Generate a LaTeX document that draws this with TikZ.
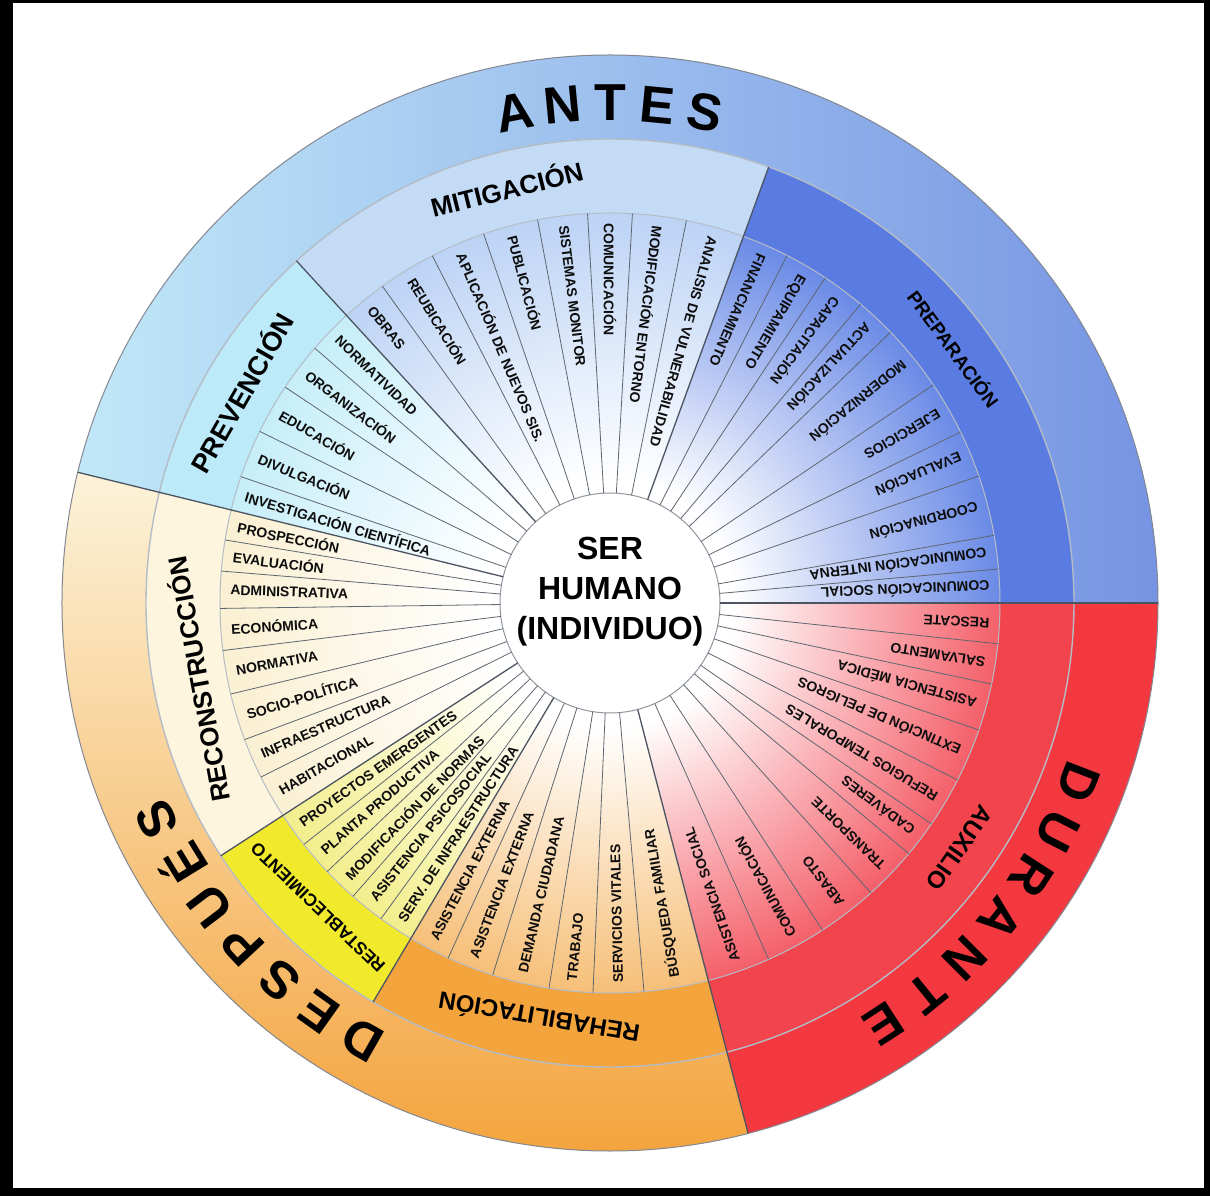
\documentclass[tikz,border=0pt]{standalone}
\usepackage{fontspec}
\setmainfont{Liberation Sans}
\usepackage{tikz}
\usetikzlibrary{calc}

\definecolor{antesL}{HTML}{C2E9F8}
\definecolor{antesR}{HTML}{7694E3}
\definecolor{durante}{HTML}{F43840}
\definecolor{despuesT}{HTML}{FCF3DA}
\definecolor{despuesB}{HTML}{F4A43E}
\definecolor{prevband}{HTML}{BDEAF8}
\definecolor{mitiband}{HTML}{C4DBF6}
\definecolor{prepband}{HTML}{5A7CE2}
\definecolor{auxband}{HTML}{F2444C}
\definecolor{rehaband}{HTML}{F4A43C}
\definecolor{restband}{HTML}{F1E92C}
\definecolor{recoband}{HTML}{FDF5DD}
\definecolor{divline}{HTML}{5E6670}
\definecolor{arcline}{HTML}{B4BCC6}
\definecolor{bordline}{HTML}{4C5462}
\definecolor{tint}{HTML}{FFFFFF}

\newcommand{\Rout}{548}
\newcommand{\Rone}{464}
\newcommand{\Rtwo}{390}
\newcommand{\Rtxt}{381}
\newcommand{\rin}{110}
% ring sector: start angle, end angle, outer radius, inner radius
\newcommand{\ringpart}[4]{(#1:#3) arc[start angle=#1, end angle=#2, radius=#3] -- (#2:#4) arc[start angle=#2, end angle=#1, radius=#4] -- cycle}

\pgfdeclareradialshading[tint]{itemshade}{\pgfpoint{0bp}{0bp}}{color(0bp)=(white); color(8bp)=(white); color(25bp)=(tint); color(50bp)=(tint)}

\tikzset{
	itemtext/.style={font=\fontsize{14}{14}\selectfont\bfseries, text=black!95, inner sep=1pt, anchor=west},
	phaseletter/.style={font=\fontsize{52}{52}\selectfont\bfseries, text=black, inner sep=0pt},
	divider/.style={draw=divline, line width=0.8pt},
	border/.style={draw=bordline, line width=1.3pt},
	guide/.style={draw=arcline, line width=1.4pt},
}

\begin{document}
\begin{tikzpicture}[x=1pt,y=1pt]
	\fill[black] (-610,-593) rectangle (600,603);
	\fill[white] (-597,-585) rectangle (594,600);
	\useasboundingbox (-610,-593) rectangle (600,603);

	% outer ring
	\begin{scope}
		\clip \ringpart{0}{166.2}{\Rout}{\Rone};
		\shade[left color=antesL, right color=antesR] (-\Rout,-\Rout) rectangle (\Rout,\Rout);
	\end{scope}
	\fill[durante] \ringpart{-75.4}{0}{\Rout}{\Rone};
	\begin{scope}
		\clip \ringpart{166.2}{284.6}{\Rout}{\Rone};
		\shade[top color=despuesT, bottom color=despuesB] (-\Rout,-\Rout) rectangle (\Rout,131);
	\end{scope}

	% sub-phase bands
	\fill[prevband] \ringpart{132.5}{166.2}{\Rone}{\Rtwo};
	\fill[mitiband] \ringpart{70}{132.5}{\Rone}{\Rtwo};
	\fill[prepband] \ringpart{0}{70}{\Rone}{\Rtwo};
	\fill[auxband] \ringpart{-75.4}{0}{\Rone}{\Rtwo};
	\fill[rehaband] \ringpart{239.3}{284.6}{\Rone}{\Rtwo};
	\fill[restband] \ringpart{213}{239.3}{\Rone}{\Rtwo};
	\fill[recoband] \ringpart{166.2}{213}{\Rone}{\Rtwo};

	% item sectors
	\foreach \a/\b/\c in {132.5/166.2/C6EEF9, 70/132.5/BCD3F5, 0/70/6A8AE6, -75.4/0/F4606A,
		239.3/284.6/F6BF78, 213/239.3/F3EE8C, 166.2/213/FAF0D2}{
		\begin{scope}
			\clip \ringpart{\a}{\b}{\Rtwo}{\rin};
			\definecolor{tint}{HTML}{\c}
			\shade[shading=itemshade] (0,0) circle (\Rtwo);
		\end{scope}
	}

	\draw[guide] (0,0) circle (\Rone);
	\draw[guide, line width=1pt] (0,0) circle (\Rtwo);
	\draw[draw=bordline!70, line width=1pt] (0,0) circle (\Rout);
	\fill[white] (0,0) circle (\rin);
	\draw[draw=arcline!80!black, line width=1pt] (0,0) circle (\rin);

	% item dividers
	\foreach \a in {139.2,146.4,153.9,161.1,
		125.7,117.1,108.9,100.7,93.3,86.7,78.7,
		63,56.5,50,44,34,26,19,10,5,
		-6,-12,-19,-27,-34.5,-40,-48,-57,-66,
		245.5,252.5,261,267.5,275,
		218.26,223.52,228.78,234.04,
		170.7,175.3,180.8,187,193.5,200.5,206.5}
		\draw[divider] (\a:\rin) -- (\a:\Rtwo);
	\foreach \a in {132.5,70,213,239.3}
		\draw[border] (\a:\rin) -- (\a:\Rone);
	\foreach \a in {0,166.2,-75.4}
		\draw[border] (\a:\rin) -- (\a:\Rout);

	% items
	\foreach \a/\t [count=\i] in {135.85/NORMATIVIDAD, 142.8/ORGANIZACIÓN, 150.15/EDUCACIÓN,
		157.5/DIVULGACIÓN, 163.65/INVESTIGACIÓN CIENTÍFICA}
		\node[itemtext, rotate=\a+180] (prev\i) at (\a:\Rtxt) {\t};
	\foreach \a/\t [count=\i] in {129.1/OBRAS, 121.4/REUBICACIÓN, 113/APLICACIÓN DE NUEVOS SIS.,
		104.8/PUBLICACIÓN, 97/SISTEMAS MONITOR, 90/COMUNICACIÓN, 82.7/MODIFICACIÓN ENTORNO,
		74.35/ANALISIS DE VULNERABILIDAD}
		\node[itemtext, rotate=\a+180] (miti\i) at (\a:\Rtxt) {\t};
	\foreach \a/\t [count=\i] in {66.5/FINANCIAMIENTO, 59.75/EQUIPAMIENTO, 53.25/CAPACITACIÓN,
		47/ACTUALIZACIÓN, 39/MODERNIZACIÓN, 30/EJERCICIOS, 22.5/EVALUACIÓN, 14.5/COORDINACIÓN,
		7.5/COMUNICACIÓN INTERNA, 2.5/COMUNICACIÓN SOCIAL}
		\node[itemtext, rotate=\a+180] (prep\i) at (\a:\Rtxt) {\t};
	\foreach \a/\t [count=\i] in {-3/RESCATE, -9/SALVAMENTO, -15.5/ASISTENCIA MÉDICA,
		-23/EXTINCIÓN DE PELIGROS, -30.75/REFUGIOS TEMPORALES, -37.25/CADÁVERES, -44/TRANSPORTE,
		-52.5/ABASTO, -61.5/COMUNICACIÓN, -70.7/ASISTENCIA SOCIAL}
		\node[itemtext, rotate=\a+180] (aux\i) at (\a:\Rtxt) {\t};
	\foreach \a/\t [count=\i] in {242.4/ASISTENCIA EXTERNA, 249/ASISTENCIA EXTERNA,
		256.75/DEMANDA CIUDADANA, 264.25/TRABAJO, 271.25/SERVICIOS VITALES, 279.8/BÚSQUEDA FAMILIAR}
		\node[itemtext, rotate=\a+180] (reha\i) at (\a:\Rtxt) {\t};
	\foreach \a/\t [count=\i] in {215.6/PROYECTOS EMERGENTES, 220.9/PLANTA PRODUCTIVA,
		226.2/MODIFICACIÓN DE NORMAS, 231.4/ASISTENCIA PSICOSOCIAL, 236.7/SERV. DE INFRAESTRUCTURA}
		\node[itemtext, rotate=\a+180] (rest\i) at (\a:\Rtxt) {\t};
	\foreach \a/\t [count=\i] in {168.45/PROSPECCIÓN, 173/EVALUACIÓN, 178.05/ADMINISTRATIVA,
		183.9/ECONÓMICA, 190.25/NORMATIVA, 197/SOCIO-POLÍTICA, 203.5/INFRAESTRUCTURA,
		209.75/HABITACIONAL}
		\node[itemtext, rotate=\a+180] (reco\i) at (\a:\Rtxt) {\t};

	% sub-phase labels
	\node[font=\fontsize{26}{26}\selectfont\bfseries, rotate=14] (mitigacion) at (104:428) {MITIGACIÓN};
	\node[font=\fontsize{27}{27}\selectfont\bfseries, rotate=60.3] (prevencion) at (150.3:425) {PREVENCIÓN};
	\node[font=\fontsize{19}{19}\selectfont\bfseries, rotate=-53.5] (preparacion) at (36.5:428) {PREPARACIÓN};
	\node[font=\fontsize{24}{24}\selectfont\bfseries, rotate=-125] (auxilio) at (-35:427) {AUXILIO};
	\node[font=\fontsize{24}{24}\selectfont\bfseries, rotate=170.3] (rehabilitacion) at (260.3:422) {REHABILITACIÓN};
	\node[font=\fontsize{17.5}{17.5}\selectfont\bfseries, rotate=136.2] (restablecimiento) at (226.2:422) {RESTABLECIMIENTO};
	\node[font=\fontsize{26}{26}\selectfont\bfseries, rotate=100.5] (reconstruccion) at (190.5:420) {RECONSTRUCCIÓN};

	% phases
	\foreach \a/\l [count=\i] in {101/A, 95.5/N, 90/T, 84.5/E, 79/S}
		\node[phaseletter, rotate=\a-90] (antes\i) at (\a:500) {\l};
	\foreach \a/\l [count=\i] in {-21/D, -27/U, -33/R, -39/A, -45/N, -51/T, -57/E}
		\node[phaseletter, rotate=\a-90] (durante\i) at (\a:502) {\l};
	\foreach \a/\l [count=\i] in {240.4/D, 234.6/E, 228.8/S, 223/P, 217.2/U, 211.4/É, 205.6/S}
		\node[phaseletter, rotate=\a-90] (despues\i) at (\a:502) {\l};

	\node[font=\fontsize{32}{40}\selectfont\bfseries, align=center] (serhumano) at (0,11) {SER\\HUMANO\\(INDIVIDUO)};
\end{tikzpicture}
\end{document}
